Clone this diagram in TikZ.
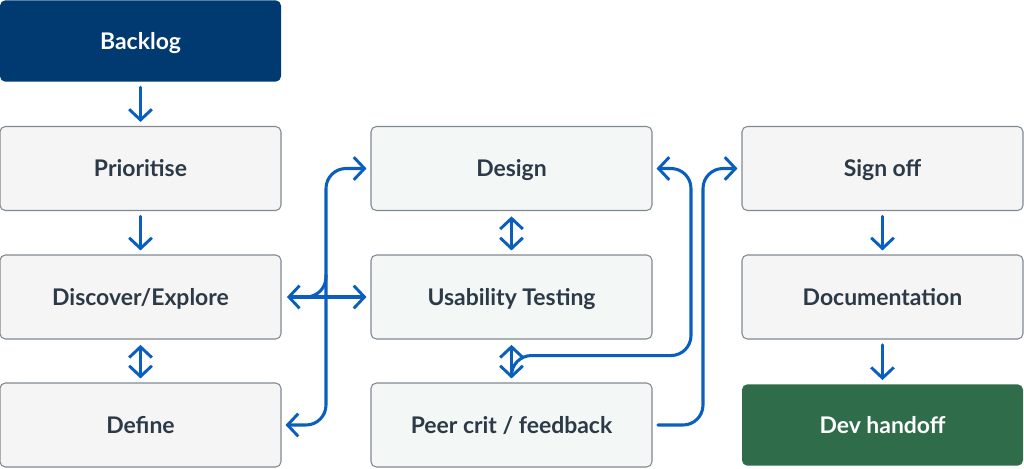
\documentclass[tikz,border=0pt]{standalone}
\usepackage{fontspec}
\setmainfont{Lato}
\usetikzlibrary{arrows.meta,positioning,calc}
\definecolor{navy}{RGB}{0,58,112}
\definecolor{forest}{RGB}{47,108,74}
\definecolor{flowblue}{RGB}{10,95,190}
\definecolor{ink}{RGB}{44,58,71}
\definecolor{rim}{RGB}{128,136,144}
\definecolor{paleg}{RGB}{245,245,245}
\definecolor{palem}{RGB}{243,247,246}
\tikzset{
  >={Straight Barb[length=8pt,width=17pt,line width=2.2pt]},
  stage/.style={draw=rim,line width=0.8pt,fill=#1,rounded corners=4pt,
    minimum width=210.75pt,minimum height=63pt,inner sep=0pt,align=center,
    text height=12.4pt,text depth=0pt,
    text=ink,font=\fontsize{17.2}{20}\selectfont\bfseries},
  stage/.default=paleg,
  solid stage/.style={fill=#1,rounded corners=4pt,
    minimum width=210.75pt,minimum height=61pt,inner sep=0pt,align=center,
    text height=12.4pt,text depth=0pt,
    text=white,font=\fontsize{17.2}{20}\selectfont\bfseries},
  solid stage/.default=navy,
  flow/.style={line width=2.3pt,draw=flowblue,rounded corners=15pt,line cap=round},
  gap/.style={shorten <=4pt,shorten >=3pt},
}
\begin{document}
\begin{tikzpicture}[x=0.75pt,y=-0.75pt]
  \useasboundingbox (0,0) rectangle (1024,468);
  % left column
  \node[solid stage] (backlog) at (140.5,41) {Backlog};
  \node[stage] (prio) at (140.5,168.5) {Prioritise};
  \node[stage] (disc) at (140.5,297) {Discover/Explore};
  \node[stage] (def) at (140.5,425) {Define};
  % middle column
  \node[stage=palem] (des) at (511.5,168.5) {Design};
  \node[stage=palem] (usab) at (511.5,297) {Usability Testing};
  \node[stage=palem] (peer) at (511.5,425) {Peer crit / feedback};
  % right column
  \node[stage] (sign) at (882.5,168.5) {Sign off};
  \node[stage] (docu) at (882.5,297) {Documentation};
  \node[solid stage=forest] (dev) at (882.5,425) {Dev handoff};

  \coordinate (junc) at ($(disc.east)!.5!(usab.west)$);
  \coordinate (gapR) at ($(usab.east)!.5!(docu.west)$);
  \coordinate (jr) at ($(usab.south)+(0,16)$);

  % straight steps
  \draw[flow,gap,->] (backlog) -- (prio);
  \draw[flow,gap,->] (prio) -- (disc);
  \draw[flow,gap,<->] (disc) -- (def);
  \draw[flow,gap,<->] (des) -- (usab);
  \draw[flow,gap,<->] (usab) -- (peer);
  \draw[flow,gap,->] (sign) -- (docu);
  \draw[flow,gap,->] (docu) -- (dev);
  \draw[flow,gap,<->] (disc) -- (usab);

  % branches
  \draw[flow,shorten >=3pt,->] ($(junc)+(-20,0)$) -| (junc |- des.west) -- (des.west);
  \draw[flow,shorten >=3pt,->] ($(junc)+(0,-22)$) |- (def.east);
  \draw[flow,shorten >=3pt,->] ($(jr)+(0,18)$) |- ($(gapR |- jr)+(-6,0)$) |- (des.east);
  \draw[flow,shorten <=4pt,shorten >=3pt,->] (peer.east) -| ($(gapR)+(6,0)$) |- (sign.west);
\end{tikzpicture}
\end{document}
